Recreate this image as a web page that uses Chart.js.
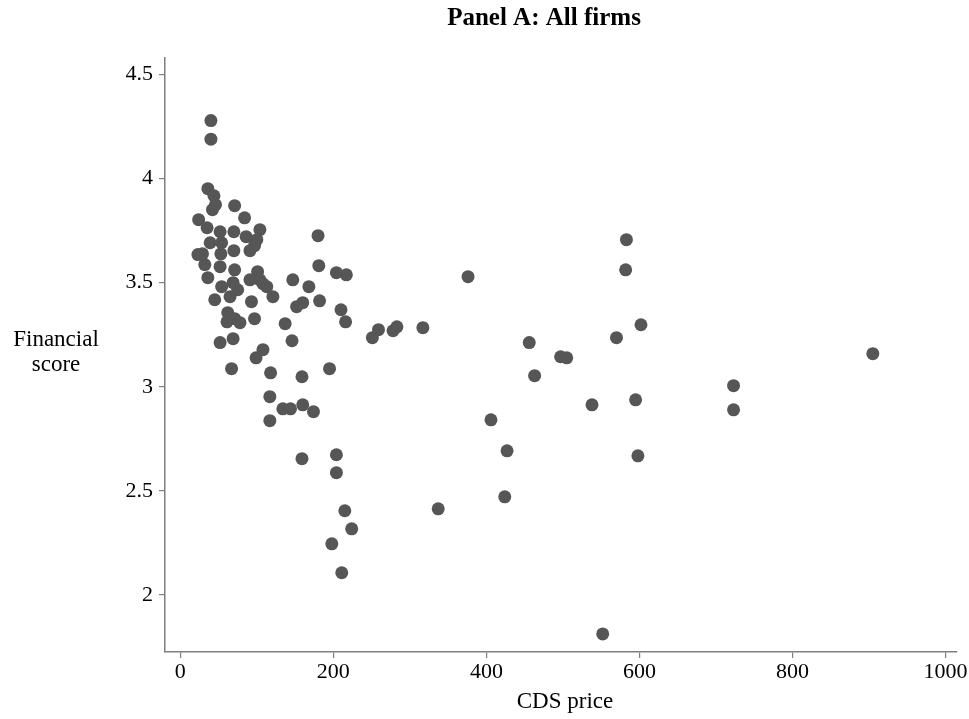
<!DOCTYPE html>
<html>
<head>
<meta charset="utf-8">
<script src="https://cdn.jsdelivr.net/npm/chart.js@4.4.1/dist/chart.umd.min.js"></script>
<style>
  html, body { margin: 0; padding: 0; background: #ffffff; }
  #wrap { width: 969px; height: 719px; position: relative; }
</style>
</head>
<body>
<div id="wrap"><canvas id="c" width="969" height="719"></canvas></div>
<script>
const chartTitle = "Panel A: All firms";
const xAxisTitle = "CDS price";
const yAxisTitle = ["Financial", "score"];
const xTicks = [0, 200, 400, 600, 800, 1000];
const yTicks = [2, 2.5, 3, 3.5, 4, 4.5];

const cdsPrice = [
  40, 40, 36, 44, 42, 46, 71, 84, 24, 35, 52, 70, 86, 104, 100,
  29, 53, 70, 91, 97, 32, 52, 71, 101, 104, 113, 121, 69, 54, 36,
  45, 65, 93, 62, 71, 61, 78, 97, 137, 147, 168, 160, 152, 181, 204,
  217, 182, 210, 216, 180, 52, 69, 108, 99, 146, 67, 118, 159, 195, 117,
  134, 144, 160, 174, 117, 159, 204, 204, 215, 224, 198, 211, 251, 259, 278,
  283, 317, 376, 583, 582, 456, 463, 497, 505, 570, 602, 905, 723, 723, 538,
  595, 598, 406, 427, 424, 337, 552, 54, 39, 75, 23, 91, 108
];
const financialScore = [
  4.279, 4.19, 3.952, 3.918, 3.851, 3.875, 3.870, 3.812, 3.803, 3.764, 3.745, 3.745, 3.721, 3.755, 3.707,
  3.639, 3.639, 3.654, 3.654, 3.678, 3.587, 3.577, 3.562, 3.553, 3.514, 3.481, 3.433, 3.500, 3.481, 3.524,
  3.418, 3.433, 3.409, 3.356, 3.327, 3.312, 3.308, 3.327, 3.303, 3.514, 3.481, 3.404, 3.385, 3.582, 3.548,
  3.538, 3.413, 3.370, 3.312, 3.726, 3.212, 3.231, 3.178, 3.139, 3.221, 3.087, 3.067, 3.048, 3.087, 2.952,
  2.894, 2.894, 2.913, 2.880, 2.837, 2.654, 2.673, 2.587, 2.404, 2.317, 2.245, 2.106, 3.236, 3.274, 3.269,
  3.288, 3.284, 3.529, 3.707, 3.562, 3.212, 3.053, 3.144, 3.139, 3.236, 3.298, 3.159, 3.005, 2.889, 2.913,
  2.937, 2.668, 2.841, 2.692, 2.471, 2.413, 1.812, 3.692, 3.692, 3.466, 3.635, 3.514, 3.495
];

const points = cdsPrice.map((x, i) => ({ x: x, y: financialScore[i] }));

const FONT = "'Liberation Serif', 'Times New Roman', serif";
const AXIS_COLOR = '#7f7f7f';

const textPlugin = {
  id: 'texts',
  afterDraw(chart) {
    const ctx = chart.ctx;
    ctx.save();
    ctx.fillStyle = '#000000';
    ctx.textAlign = 'center';
    ctx.textBaseline = 'middle';
    ctx.font = "bold 25px " + FONT;
    ctx.fillText(chartTitle, 544, 19);
    ctx.font = "23px " + FONT;
    ctx.fillText(xAxisTitle, 565, 702);
    ctx.fillText(yAxisTitle[0], 56, 340);
    ctx.fillText(yAxisTitle[1], 56, 365);
    ctx.restore();
  }
};

new Chart(document.getElementById('c'), {
  type: 'scatter',
  data: {
    datasets: [{
      data: points,
      backgroundColor: '#565656',
      borderWidth: 0,
      pointRadius: 6.5,
      pointHoverRadius: 6.5
    }]
  },
  options: {
    responsive: false,
    animation: false,
    devicePixelRatio: 1,
    layout: { padding: { top: 58, right: 12, bottom: 0, left: 0 } },
    plugins: {
      legend: { display: false },
      title: { display: false },
      tooltip: { enabled: false }
    },
    scales: {
      x: {
        type: 'linear',
        min: -20,
        max: 1015,
        afterBuildTicks(scale) { scale.ticks = xTicks.map(v => ({ value: v })); },
        afterFit(scale) { scale.height = 719 - 652; },
        border: { display: true, color: AXIS_COLOR, width: 1.5 },
        grid: { display: true, drawOnChartArea: false, drawTicks: true, tickLength: 6, color: AXIS_COLOR, lineWidth: 1.2 },
        ticks: { color: '#000000', font: { family: FONT, size: 22 }, padding: 1, maxRotation: 0, autoSkip: false,
                 callback: v => String(v) }
      },
      y: {
        type: 'linear',
        min: 1.725,
        max: 4.58,
        afterBuildTicks(scale) { scale.ticks = yTicks.map(v => ({ value: v })); },
        afterFit(scale) { scale.width = 165; },
        border: { display: true, color: AXIS_COLOR, width: 1.5 },
        grid: { display: true, drawOnChartArea: false, drawTicks: true, tickLength: 6, color: AXIS_COLOR, lineWidth: 1.2 },
        ticks: { color: '#000000', font: { family: FONT, size: 22 }, padding: 6, autoSkip: false,
                 callback: v => String(v) }
      }
    }
  },
  plugins: [textPlugin]
});
</script>
</body>
</html>
